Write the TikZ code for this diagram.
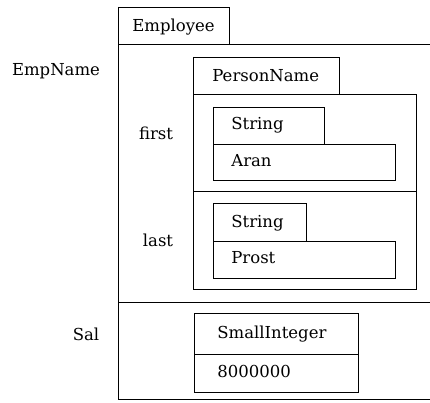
\documentclass[tikz,border=0pt]{standalone}
\usepackage{fontspec}
\setmainfont{DejaVu Serif}
\begin{document}
\begin{tikzpicture}[x=1pt,y=-1pt,line width=0.7pt,
  lbl/.style={inner sep=0pt,anchor=base,font=\fontsize{16.5}{19}\selectfont},
  txt/.style={inner sep=0pt,anchor=base west,font=\fontsize{16.5}{19}\selectfont}]
\useasboundingbox (0,0) rectangle (430,403);
% Employee
\draw (118,7) -- (229,7) -- (229,44);
\draw (118,7) -- (118,399);
\draw (118,44) -- (430,44);
\draw (118,302) -- (430,302);
\draw (118,399) -- (430,399);
\node[txt] (emp) at (132,32) {Employee};
\node[lbl] (empname) at (56,76) {EmpName};
\node[lbl] (sal) at (86,340) {Sal};
% PersonName
\draw (193,57) -- (339,57) -- (339,94);
\draw (193,57) -- (193,289) -- (416,289) -- (416,94) -- (193,94);
\draw (193,191) -- (416,191);
\node[txt] (pn) at (212,82) {PersonName};
\node[lbl] (first) at (156,140) {first};
\node[lbl] (last) at (158,246) {last};
% String 1
\draw (213,107) -- (324,107) -- (324,144);
\draw (213,107) -- (213,180) -- (395,180) -- (395,144) -- (213,144);
\node[txt] (s1) at (231,130) {String};
\node[txt] (aran) at (231,167) {Aran};
% String 2
\draw (213,203) -- (306,203) -- (306,241);
\draw (213,203) -- (213,278) -- (395,278) -- (395,241) -- (213,241);
\node[txt] (s2) at (231,227) {String};
\node[txt] (prost) at (231,263) {Prost};
% SmallInteger
\draw (194,313) rectangle (358,392);
\draw (194,354) -- (358,354);
\node[txt] (si) at (217,338) {SmallInteger};
\node[txt] (val) at (217,377) {8000000};
\end{tikzpicture}
\end{document}
